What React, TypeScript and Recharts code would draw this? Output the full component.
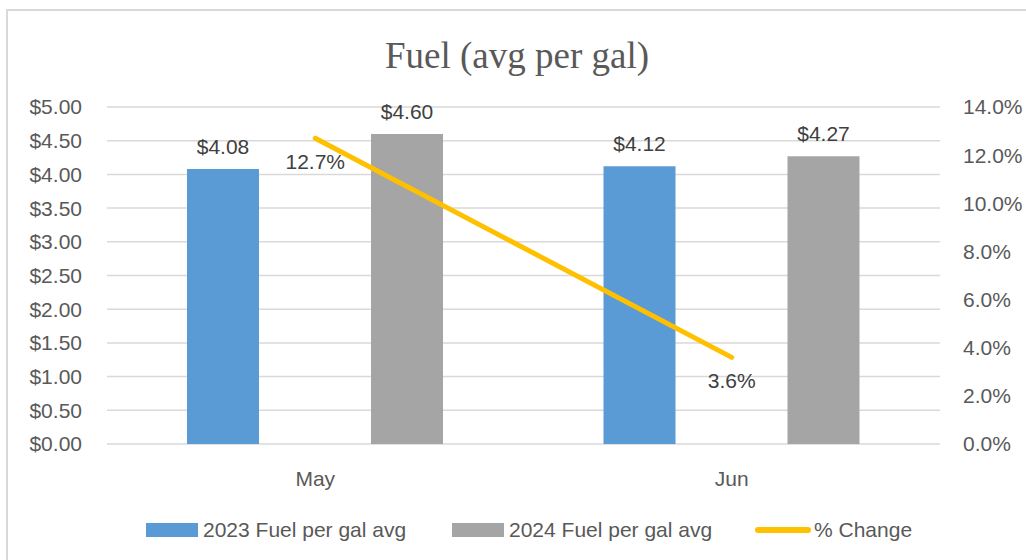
import React from 'react'
import {
  ComposedChart,
  Bar,
  Line,
  XAxis,
  YAxis,
  CartesianGrid,
  LabelList
} from 'recharts'

// chart values
const months = ['May', 'Jun']
const fuel2023 = [4.08, 4.12]
const fuel2024 = [4.6, 4.27]
const pctChange = [0.127, 0.036]

const leftTicks = [0, 0.5, 1, 1.5, 2, 2.5, 3, 3.5, 4, 4.5, 5]
const rightTicks = [0, 0.02, 0.04, 0.06, 0.08, 0.1, 0.12, 0.14]

const seriesNames = ['2023 Fuel per gal avg', '2024 Fuel per gal avg', '% Change']

const BLUE = '#5B9BD5'
const GRAY = '#A5A5A5'
const GOLD = '#FFC000'
const AXIS_TEXT = '#595959'
const LABEL_TEXT = '#404040'
const FONT = '"Liberation Sans", Arial, sans-serif'

const data = months.map((m, i) => ({
  month: m,
  y2023: fuel2023[i],
  y2024: fuel2024[i],
  change: pctChange[i]
}))

const money = (v: any) => `$${Number(v).toFixed(2)}`
const pct = (v: any) => `${(Number(v) * 100).toFixed(1)}%`

export default function App() {
  const tickStyle = { fill: AXIS_TEXT, fontSize: 21, fontFamily: FONT }
  const labelStyle = { fill: LABEL_TEXT, fontSize: 21, fontFamily: FONT }

  return (
    <div style={{ position: 'fixed', left: 0, top: 0, width: 1026, height: 560, background: '#fff', overflow: 'hidden' }}>
      {/* chart frame */}
      <div
        style={{
          position: 'absolute',
          left: 6,
          top: 9,
          width: 1040,
          height: 570,
          borderLeft: '2px solid #d9d9d9',
          borderTop: '2px solid #d9d9d9',
          boxSizing: 'border-box'
        }}
      />

      <div
        style={{
          position: 'absolute',
          left: 8,
          top: 33,
          width: 1018,
          textAlign: 'center',
          fontFamily: '"Liberation Serif", "Times New Roman", serif',
          fontSize: 37,
          color: AXIS_TEXT,
          lineHeight: '46px'
        }}
      >
        Fuel (avg per gal)
      </div>

      <div style={{ position: 'absolute', left: 8, top: 11 }}>
        <ComposedChart
          width={1018}
          height={549}
          data={data}
          margin={{ top: 96, right: 6, left: 0, bottom: 76 }}
          barSize={72}
          barGap={112}
        >
          <CartesianGrid
            yAxisId="left"
            vertical={false}
            stroke="#d9d9d9"
            strokeWidth={1.5}
          />
          <XAxis
            dataKey="month"
            axisLine={false}
            tickLine={false}
            tickMargin={21}
            height={40}
            tick={tickStyle}
          />
          <YAxis
            yAxisId="left"
            orientation="left"
            width={99}
            domain={[0, 5]}
            ticks={leftTicks}
            axisLine={false}
            tickLine={false}
            tickMargin={19}
            tick={tickStyle}
            tickFormatter={money}
          />
          <YAxis
            yAxisId="right"
            orientation="right"
            width={80}
            domain={[0, 0.14]}
            ticks={rightTicks}
            axisLine={false}
            tickLine={false}
            tickMargin={17}
            tick={{ ...tickStyle, textAnchor: 'start' }}
            tickFormatter={pct}
          />
          <Bar yAxisId="left" dataKey="y2023" name={seriesNames[0]} fill={BLUE} isAnimationActive={false}>
            <LabelList dataKey="y2023" position="top" offset={15} formatter={money} style={labelStyle} />
          </Bar>
          <Bar yAxisId="left" dataKey="y2024" name={seriesNames[1]} fill={GRAY} isAnimationActive={false}>
            <LabelList dataKey="y2024" position="top" offset={15} formatter={money} style={labelStyle} />
          </Bar>
          <Line
            yAxisId="right"
            type="linear"
            dataKey="change"
            name={seriesNames[2]}
            stroke={GOLD}
            strokeWidth={5}
            strokeLinecap="round"
            dot={false}
            activeDot={false}
            isAnimationActive={false}
          >
            <LabelList dataKey="change" position="bottom" offset={16} formatter={pct} style={labelStyle} />
          </Line>
        </ComposedChart>
      </div>

      {/* legend */}
      {[
        { left: 146, color: BLUE, kind: 'bar' },
        { left: 452, color: GRAY, kind: 'bar' },
        { left: 755, color: GOLD, kind: 'line' }
      ].map((it, i) => (
        <div
          key={seriesNames[i]}
          style={{
            position: 'absolute',
            left: it.left,
            top: 518,
            height: 24,
            display: 'flex',
            alignItems: 'center',
            fontFamily: FONT,
            fontSize: 21,
            color: AXIS_TEXT,
            whiteSpace: 'nowrap'
          }}
        >
          {it.kind === 'bar' ? (
            <span style={{ display: 'inline-block', width: 52, height: 14, background: it.color, marginRight: 5 }} />
          ) : (
            <span style={{ display: 'inline-block', width: 56, height: 6, borderRadius: 3, background: it.color, marginRight: 3 }} />
          )}
          {seriesNames[i]}
        </div>
      ))}
    </div>
  )
}
